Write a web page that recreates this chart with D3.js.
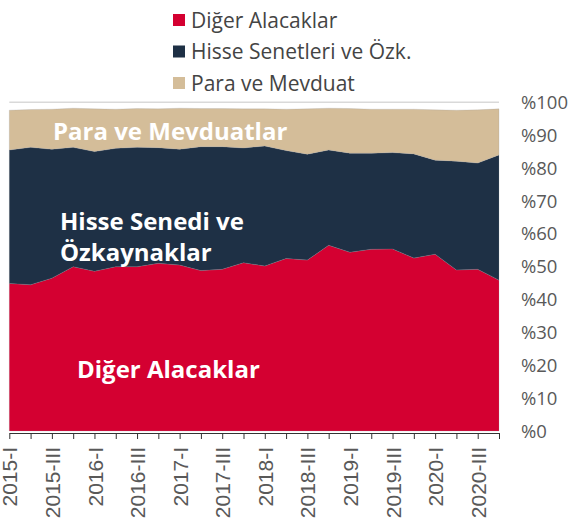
<!DOCTYPE html>
<html>
<head>
<meta charset="utf-8">
<script src="https://cdn.jsdelivr.net/npm/d3@7"></script>
<style>
  body { margin: 0; background: #fff; }
  svg text { font-family: "Open Sans", sans-serif; }
</style>
</head>
<body>
<svg id="chart" width="575" height="520"></svg>
<script>
const quarters = ['2015-I','2015-II','2015-III','2015-IV','2016-I','2016-II','2016-III','2016-IV',
  '2017-I','2017-II','2017-III','2017-IV','2018-I','2018-II','2018-III','2018-IV',
  '2019-I','2019-II','2019-III','2019-IV','2020-I','2020-II','2020-III','2020-IV']
const diger = [44.9,44.5,46.5,50.0,48.6,50.0,50.0,51.0,50.5,48.8,49.2,51.2,
  50.2,52.5,52.0,56.5,54.4,55.3,55.4,52.6,53.8,49.0,49.2,45.9]
const hisse = [40.6,41.8,39.2,36.3,36.4,36.0,36.3,35.2,35.2,37.7,37.3,34.9,
  36.5,32.8,32.2,29.0,30.1,29.2,29.3,31.7,28.6,33.1,32.3,38.1]
const para = [12.1,11.5,12.2,11.9,13.0,11.9,11.8,11.8,12.5,11.6,11.6,11.9,
  11.3,12.6,13.8,12.7,13.6,13.4,13.2,13.6,15.3,15.5,16.2,14.0]
const seriesNames = ['Diğer Alacaklar','Hisse Senetleri ve Özk.','Para ve Mevduat']
const colors = ['#d40031','#1e3045','#d4bd99']
const yTicks = [0,10,20,30,40,50,60,70,80,90,100]

const svg = d3.select('#chart')
const x = d3.scalePoint().domain(quarters).range([9.3, 499])
const y = d3.scaleLinear().domain([0, 100]).range([431, 102.3])

const rows = quarters.map((q, i) => ({q: q, a: diger[i], b: hisse[i], c: para[i]}))
const stacked = d3.stack().keys(['a','b','c'])(rows)

// top grid line
svg.append('line')
    .attr('x1', x.range()[0]).attr('x2', x.range()[1])
    .attr('y1', y(100)).attr('y2', y(100))
    .attr('stroke', '#d9d9d9').attr('stroke-width', 1.5)

const area = d3.area()
    .x(d => x(d.data.q))
    .y0(d => y(d[0]))
    .y1(d => y(d[1]))

svg.selectAll('.layer')
    .data(stacked)
    .enter().append('path')
    .attr('class', 'layer')
    .attr('d', area)
    .attr('fill', (d, i) => colors[i])
    .attr('stroke', '#8a8f99').attr('stroke-opacity', 0.35).attr('stroke-width', 0.6)

// x axis
const xAxis = svg.append('g')
    .attr('transform', 'translate(0,433)')
    .call(d3.axisBottom(x).tickSize(6).tickSizeOuter(0)
        .tickFormat(d => (d.endsWith('-I') || d.endsWith('-III')) ? d : ''))
xAxis.select('.domain').attr('stroke', '#333')
xAxis.selectAll('.tick line').attr('stroke', '#333')
xAxis.selectAll('text')
    .attr('fill', '#595959')
    .style('font-family', '"Liberation Sans", Arial, sans-serif')
    .style('font-size', '21px')
    .attr('text-anchor', 'end')
    .attr('transform', 'rotate(-90)')
    .attr('x', -14).attr('y', 0).attr('dy', '0.36em')

// y labels on the right
svg.selectAll('.ylab')
    .data(yTicks)
    .enter().append('text')
    .attr('class', 'ylab')
    .attr('x', 521)
    .attr('y', d => y(d))
    .attr('dy', '0.36em')
    .attr('fill', '#595959')
    .style('font-size', '18.5px')
    .text(d => '%' + d)

// legend
const legend = svg.selectAll('.leg')
    .data(seriesNames)
    .enter().append('g')
    .attr('class', 'leg')
    .attr('transform', (d, i) => `translate(173,${20 + i * 31.5})`)
legend.append('rect')
    .attr('x', 0).attr('y', -6).attr('width', 12).attr('height', 12)
    .attr('fill', (d, i) => colors[i])
legend.append('text')
    .attr('x', 18).attr('y', 0).attr('dy', '0.36em')
    .attr('fill', '#444')
    .style('font-size', '21px')
    .text(d => d)

// in-chart labels
const inLabels = [
  {t: 'Para ve Mevduatlar', x: 53, y: 140},
  {t: 'Hisse Senedi ve', x: 60, y: 230},
  {t: 'Özkaynaklar', x: 60, y: 261},
  {t: 'Diğer Alacaklar', x: 77, y: 378}
]
svg.selectAll('.inlab')
    .data(inLabels)
    .enter().append('text')
    .attr('class', 'inlab')
    .attr('x', d => d.x).attr('y', d => d.y)
    .attr('fill', '#fff')
    .style('font-size', '24px')
    .style('font-weight', 'bold')
    .text(d => d.t)
</script>
</body>
</html>
